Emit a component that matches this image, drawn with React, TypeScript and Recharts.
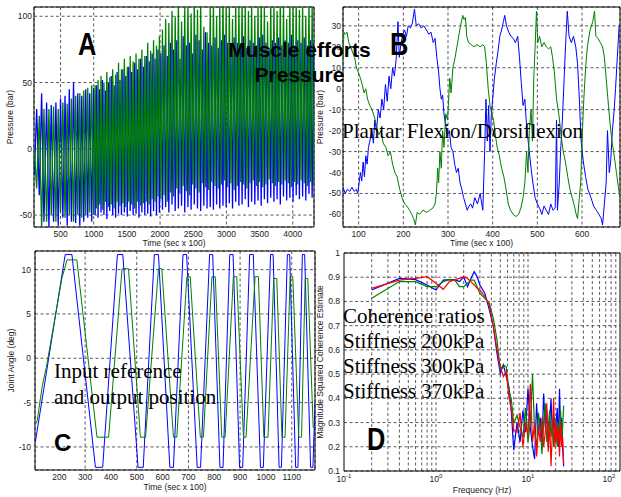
// Four-panel figure: muscle pressures (A, B), joint angle tracking (C), coherence (D).
import { CartesianGrid, Line, LineChart, ReferenceArea, ReferenceLine, XAxis, YAxis } from "recharts";

const SANS = '"Liberation Sans", Arial, Helvetica, sans-serif';
const SERIF = '"Liberation Serif", "Times New Roman", Times, serif';
const BLUE = "#0000ff";
const GREEN = "#008000";
const RED = "#ff0000";

// ---- Panel A: pressure, long run (sec x 100)
const aTime = [
  105, 140, 180, 215, 250, 290, 325, 360, 395, 430, 465, 500, 535, 568, 600, 632, 664, 696, 728, 760, 790, 820, 850, 880, 910, 940, 970, 1000,
  1022, 1044, 1066, 1088, 1110, 1132, 1154, 1176, 1198, 1220, 1242, 1264, 1286, 1308, 1330, 1352, 1374, 1396, 1418, 1440, 1462, 1484,
  1506, 1528, 1550, 1572, 1594, 1616, 1638, 1660, 1682, 1704, 1726, 1748, 1770, 1792, 1814, 1836, 1858, 1880, 1902, 1924, 1946, 1968, 1990,
  2012, 2036, 2060, 2084, 2108, 2132, 2156, 2180, 2204, 2228, 2252, 2276, 2300, 2324, 2348, 2372, 2396, 2420, 2444, 2468,
  2492, 2516, 2540, 2564, 2588, 2612, 2636, 2660, 2684, 2708, 2732, 2756, 2780, 2804, 2828, 2852, 2876, 2900, 2924, 2948,
  2972, 2996, 3020, 3044, 3068, 3092, 3116, 3140, 3164, 3188, 3212, 3236, 3260, 3284, 3308, 3332, 3356, 3380, 3404, 3428,
  3452, 3476, 3500, 3524, 3548, 3572, 3596, 3620, 3644, 3668, 3692, 3716, 3740, 3764, 3788, 3812, 3836, 3860, 3884, 3908,
  3932, 3956, 3980, 4004, 4028, 4052, 4076, 4100, 4124, 4148, 4172, 4196, 4220, 4244, 4268, 4292, 4316,
];
const aBlue = [
  -20, 30, -35, 42, -55, 35, -60, 33, -55, 35, -58, 38, -52, 40, -58, 45, -55, 50, -56, 42, -58, 40, -55, 45, -52, 42, -55, 46,
  -50, 48, -52, 45, -48, 52, -50, 44, -53, 50, -47, 55, -50, 48, -52, 58, -49, 52, -50, 60, -48, 55,
  -51, 62, -47, 58, -50, 65, -49, 60, -52, 68, -48, 62, -50, 70, -49, 66, -51, 72, -47, 68, -50, 75, -48,
  72, -46, 78, -44, 70, -48, 80, -42, 75, -47, 82, -45, 68, -43, 85, -48, 78, -44, 80, -46,
  72, -42, 86, -45, 82, -47, 75, -43, 88, -45, 80, -44, 78, -46, 84, -42, 76, -45, 82, -43,
  86, -44, 80, -41, 74, -45, 84, -40, 80, -43, 78, -42, 85, -38, 76, -44, 82, -40, 80, -42,
  78, -39, 84, -43, 86, -38, 80, -41, 76, -37, 82, -40, 80, -38, 84, -42, 78, -36, 82, -39,
  80, -37, 86, -40, 78, -35, 82, -38, 80, -36, 84, -39, 78, -34, 82, -37, 80,
];
const aGreen = [
  0, -30, 25, -60, 30, -55, 30, -50, 32, -55, 30, -48, 35, -52, 34, -50, 38, -55, 40, -50, 42, -52, 44, -50, 46, -48, 48, -50,
  48, -45, 52, -42, 55, -46, 50, -40, 58, -44, 54, -42, 60, -45, 56, -40, 65, -43, 60, -41, 68, -44,
  62, -40, 70, -42, 66, -45, 72, -40, 68, -43, 75, -41, 70, -40, 80, -42, 74, -38, 82, -40, 78, -36, 85,
  -38, 90, -35, 98, -40, 95, -33, 104, -36, 100, -30, 110, -34, 96, -28, 108, -32, 112, -35, 102,
  -27, 115, -30, 105, -33, 110, -26, 92, -29, 88, -31, 108, -25, 112, -28, 100, -30, 110, -27, 115,
  -24, 106, -29, 110, -26, 98, -31, 112, -28, 108, -25, 115, -27, 110, -30, 104, -26, 112, -24, 100,
  -28, 110, -25, 114, -29, 108, -27, 96, -23, 112, -26, 110, -28, 104, -25, 115, -27, 110, -24, 98,
  -26, 112, -29, 108, -25, 114, -27, 105, -24, 110, -26, 100, -28, 112, -25, 108, -27,
];
const aTimeTicks = [500, 1000, 1500, 2000, 2500, 3000, 3500, 4000];
const aPressureTicks = [-50, 0, 50, 100];

// ---- Panel B: pressure, short window
const bBlue: [number, number][] = [
  [65, -47], [70, -50], [75, -48], [80, -49], [85, -47], [90, -49], [95, -48], [98, -50], [101, -45], [104, -40], [107, -44], [110, -35],
  [113, -42], [116, -32], [119, -36], [122, -28], [126, -24], [130, -20], [133, -26], [136, -15], [140, -20], [144, -10], [148, -14],
  [152, -5], [156, -10], [160, 2], [164, -6], [168, 6], [172, 0], [176, 10], [180, 6], [184, 14], [188, 32], [191, 15], [195, 22],
  [199, 26], [203, 28], [207, 25], [211, 30], [216, 29], [220, 31], [225, 38], [229, 30], [234, 31], [240, 29], [246, 30], [252, 28],
  [257, 26], [262, 27], [267, 22], [271, 24], [275, 15], [279, 8], [282, 0], [285, -5], [288, -3], [291, -12], [295, -18], [299, -22],
  [303, -20], [307, -28], [311, -30], [315, -36], [319, -40], [323, -38], [327, -45], [331, -48], [335, -52], [339, -55], [343, -58],
  [347, -56], [351, -55], [355, -57], [360, -52], [366, -55], [372, -50], [378, -58], [382, -30], [385, -5], [388, -25], [391, -8],
  [394, -30], [397, -12], [400, -5], [404, 5], [408, 12], [412, 18], [416, 25], [420, 28], [424, 32], [427, 35], [431, 30], [436, 27],
  [441, 25], [446, 24], [451, 22], [456, 25], [460, 15], [464, 3], [468, -8], [472, -5], [475, -15], [478, -22], [482, -30], [486, -38],
  [490, -45], [495, -52], [500, -55], [505, -57], [510, -60], [515, -56], [520, -58], [525, -60], [530, -55], [535, -58], [540, -57],
  [543, -15], [545, -58], [549, -45], [552, -30], [556, -15], [560, 5], [563, 20], [567, 37], [571, 25], [576, 22], [581, 25], [586, 20],
  [590, 12], [594, -5], [598, -25], [603, -35], [608, -42], [613, -48], [620, -52], [626, -56], [632, -58], [638, -60], [643, -62],
  [646, -65], [650, -55], [654, -45], [657, -20], [661, -40], [664, -35], [668, -20], [672, -10], [675, 0], [679, 15], [683, 30],
];
const bGreen: [number, number][] = [
  [65, 15], [67, 27], [70, 26], [74, 27], [78, 22], [82, 20], [87, 17], [91, 15], [95, 10], [99, 8], [104, 5], [108, 2], [112, -2],
  [116, 0], [120, -5], [125, -8], [130, -10], [136, -14], [140, -18], [145, -22], [150, -20], [155, -26], [161, -28], [166, -32],
  [171, -30], [176, -36], [181, -40], [186, -42], [192, -48], [197, -52], [203, -55], [208, -56], [214, -58], [219, -60], [223, -62],
  [227, -65], [231, -59], [236, -60], [244, -58], [252, -59], [259, -58], [266, -57], [271, -55], [274, -50], [277, -38], [279, -45],
  [282, -30], [285, -38], [288, -20], [291, -28], [295, -12], [299, -15], [304, 5], [307, -2], [311, 10], [316, 15], [320, 20],
  [324, 25], [328, 30], [333, 35], [336, 33], [339, 34], [342, 25], [346, 22], [352, 21], [358, 20], [365, 21], [372, 20], [378, 21],
  [382, 20], [386, 12], [390, 0], [394, -8], [398, -12], [402, -15], [406, -22], [410, -28], [415, -32], [420, -38], [425, -42],
  [430, -48], [435, -55], [440, -58], [446, -60], [452, -61], [458, -60], [463, -57], [468, -52], [472, -45], [476, -30], [479, -40],
  [482, -20], [486, -10], [489, -25], [492, 5], [495, 20], [498, 37], [501, 22], [505, 25], [510, 20], [515, 22], [520, 20], [525, 19],
  [530, 20], [534, 15], [538, 8], [543, -5], [548, -12], [553, -22], [558, -30], [563, -35], [568, -42], [573, -48], [578, -52],
  [583, -56], [587, -60], [590, -62], [594, -52], [597, -45], [601, -20], [604, -5], [608, 10], [612, 20], [618, 28], [624, 32],
  [628, 37], [631, 25], [636, 24], [641, 22], [646, 20], [650, 15], [654, 5], [658, -5], [662, -15], [667, -25], [672, -32],
  [677, -40], [682, -48], [685, -52],
];
const bTimeTicks = [100, 200, 300, 400, 500, 600];
const bPressureTicks = [-60, -50, -40, -30, -20, -10, 0, 10, 20, 30];

// ---- Panel C: joint angle, reference (blue) and output (green)
const cBlue: [number, number][] = [
  [107, -9.5], [223, 11.7], [249, 11.7], [340, -12.3], [368, -12.3], [425, 11.7], [446, 11.7], [505, -12.3], [525, -12.3],
  [568, 11.7], [584, 11.7], [628, -12.3], [642, -12.3], [679, 11.7], [693, 11.7], [734, -12.3], [747, -12.3], [782, 11.7],
  [794, 11.7], [822, -12.3], [834, -12.3], [860, 11.7], [873, 11.7], [898, -12.3], [910, -12.3], [937, 11.7], [951, 11.7],
  [979, -12.3], [990, -12.3], [1018, 11.7], [1028, 11.7], [1051, -12.3], [1060, -12.3], [1083, 11.7], [1092, 11.7],
  [1115, -12.3], [1124, -12.3], [1141, 11.7], [1150, 11.7], [1173, -12.3], [1182, -12.3], [1190, -5],
];
const cGreen: [number, number][] = [
  [107, -7.5], [115, -7], [122, -5.5], [135, -3], [150, -1], [165, 1.5], [180, 4], [195, 6.5], [210, 9], [230, 11.1], [268, 11.1],
  [346, -8.9], [391, -8.9], [443, 10.1], [468, 10.1], [514, -8.9], [534, -8.9], [584, 10.1], [597, 10.1], [642, -8.9], [655, -8.9],
  [694, 9.2], [707, 9.2], [746, -8.9], [758, -8.9], [791, 9.2], [804, 9.2], [829, -8.9], [842, -8.9], [874, 9.2], [887, 9.2],
  [913, -8.9], [923, -8.9], [958, 9.2], [971, 9.2], [992, -8.9], [1008, -8.9], [1030, 9], [1042, 9], [1062, -8.9], [1074, -8.9],
  [1094, 9.2], [1104, 9.2], [1127, -8.9], [1138, -8.9], [1152, 9], [1162, 9], [1183, -7.8], [1190, -7.8],
];
const cTimeTicks = [200, 300, 400, 500, 600, 700, 800, 900, 1000, 1100];
const cAngleTicks = [-10, -5, 0, 5, 10];

// ---- Panel D: magnitude squared coherence for three stiffness settings
const dFreq = [
  0.2, 0.4, 0.6, 0.8, 1.0, 1.2, 1.4, 1.6, 1.8, 2.0, 2.2, 2.4, 2.6, 2.8, 3.0, 3.4, 3.8, 4.2, 4.6, 5.0, 5.4, 5.8, 6.2, 6.6, 7.0,
  7.6, 8.2, 8.8, 9.4, 10.0, 10.6, 11.2, 11.8, 12.4, 13.0, 13.6, 14.2, 14.8, 15.4, 16.0, 16.6, 17.2, 17.8, 18.4, 19.0, 19.6,
  20.2, 20.8, 21.4, 22.0, 22.6, 23.2, 23.8, 24.4,
];
const dBlue = [
  0.847, 0.895, 0.89, 0.868, 0.847, 0.888, 0.89, 0.89, 0.882, 0.902, 0.861, 0.895, 0.923, 0.902, 0.868, 0.833, 0.765, 0.697, 0.586,
  0.503, 0.538, 0.49, 0.448, 0.338, 0.186,
  0.3, 0.22, 0.35, 0.26, 0.44, 0.28, 0.2, 0.15, 0.38, 0.25, 0.32, 0.22, 0.42, 0.28, 0.35, 0.2, 0.3, 0.4, 0.25, 0.33, 0.22,
  0.3, 0.36, 0.2, 0.44, 0.28, 0.32, 0.2, 0.12,
];
const dGreen = [
  0.813, 0.882, 0.882, 0.861, 0.861, 0.882, 0.89, 0.888, 0.861, 0.861, 0.875, 0.888, 0.888, 0.861, 0.833, 0.813, 0.792, 0.73, 0.641,
  0.517, 0.538, 0.53, 0.434, 0.393, 0.296,
  0.33, 0.28, 0.24, 0.36, 0.22, 0.3, 0.5, 0.26, 0.2, 0.34, 0.28, 0.17, 0.3, 0.38, 0.22, 0.28, 0.35, 0.24, 0.3, 0.2, 0.32,
  0.26, 0.2, 0.3, 0.24, 0.35, 0.22, 0.28, 0.37,
];
const dRed = [
  0.854, 0.888, 0.895, 0.902, 0.875, 0.85, 0.882, 0.89, 0.895, 0.902, 0.895, 0.882, 0.868, 0.854, 0.847, 0.82, 0.785, 0.697, 0.6,
  0.53, 0.49, 0.51, 0.407, 0.352, 0.269,
  0.26, 0.34, 0.2, 0.3, 0.25, 0.46, 0.22, 0.3, 0.16, 0.28, 0.22, 0.32, 0.2, 0.26, 0.38, 0.18, 0.3, 0.12, 0.26, 0.4, 0.2,
  0.3, 0.22, 0.28, 0.16, 0.3, 0.2, 0.24, 0.13,
];
const dFreqTicks = [0.1, 1, 10, 100];
const dFreqGrid = [
  0.2, 0.3, 0.4, 0.5, 0.6, 0.7, 0.8, 0.9, 1, 2, 3, 4, 5, 6, 7, 8, 9, 10, 20, 30, 40, 50, 60, 70, 80, 90,
];
const dCohTicks = [0.1, 0.2, 0.3, 0.4, 0.5, 0.6, 0.7, 0.8, 0.9, 1];

const aRows = aTime.map((t, i) => ({ t, blue: aBlue[i], green: aGreen[i] }));
const toRows = (pts: [number, number][]) => pts.map(([t, v]) => ({ t, v }));
const dRows = dFreq.map((f, i) => ({ f, blue: dBlue[i], green: dGreen[i], red: dRed[i] }));

const tick = { fontSize: 8.5, fill: "#222", fontFamily: SANS };
const grid = { stroke: "#333", strokeDasharray: "3 2.5", strokeWidth: 0.8 };

const xLabel = (value: string, offset: number) => ({
  value, position: "insideBottom" as const, offset, fontSize: 8.5, fill: "#222", fontFamily: SANS,
});
const yLabel = (value: string, offset: number) => ({
  value, angle: -90, position: "insideLeft" as const, offset, fontSize: 8.5, fill: "#222", fontFamily: SANS,
  style: { textAnchor: "middle" as const },
});

function PowerTick({ x, y, payload }: any) {
  const exp = Math.round(Math.log10(payload.value));
  return (
    <text x={x} y={y + 9} textAnchor="middle" fontSize={8.5} fill="#222" fontFamily={SANS}>
      10<tspan dy={-4} fontSize={6}>{exp}</tspan>
    </text>
  );
}

function Tag({ x, y, size, children, sx = 1 }: { x: number; y: number; size: number; children: string; sx?: number }) {
  return (
    <text transform={`translate(${x} ${y}) scale(${sx} 1)`} fontSize={size} fontWeight="bold" fontFamily={SANS} fill="#000">
      {children}
    </text>
  );
}

export default function App() {
  return (
    <div style={{ position: "absolute", left: 0, top: 0, width: 621, height: 497, background: "#fff", overflow: "hidden" }}>
      {/* A */}
      <div style={{ position: "absolute", left: 0, top: 0 }}>
        <LineChart width={320} height={250} data={aRows} margin={{ top: 7, right: 6, bottom: 0, left: 0 }}>
          <CartesianGrid {...grid} />
          <XAxis dataKey="t" type="number" domain={[100, 4320]} ticks={aTimeTicks} allowDataOverflow height={23}
            axisLine={false} tickLine={false} tickSize={0} tickMargin={4} tick={tick} label={xLabel("Time (sec x 100)", 4)} />
          <YAxis type="number" domain={[-59, 107]} ticks={aPressureTicks} allowDataOverflow width={34}
            axisLine={false} tickLine={false} tickSize={0} tickMargin={2} tick={tick} label={yLabel("Pressure (bar)", 10)} />
          <Line dataKey="blue" stroke={BLUE} strokeWidth={1.3} dot={false} isAnimationActive={false} />
          <Line dataKey="green" stroke={GREEN} strokeWidth={1.3} dot={false} isAnimationActive={false} />
          <ReferenceArea x1={100} x2={4320} y1={-59} y2={107} fill="none" fillOpacity={0} stroke="#000" strokeWidth={1} />
        </LineChart>
      </div>

      {/* B */}
      <div style={{ position: "absolute", left: 310, top: 0 }}>
        <LineChart width={311} height={250} margin={{ top: 7, right: 1, bottom: 0, left: 0 }}>
          <CartesianGrid {...grid} />
          <XAxis dataKey="t" type="number" domain={[65, 685]} ticks={bTimeTicks} allowDataOverflow height={23}
            axisLine={false} tickLine={false} tickSize={0} tickMargin={4} tick={tick} label={xLabel("Time (sec x 100)", 4)} />
          <YAxis type="number" domain={[-66, 39]} ticks={bPressureTicks} allowDataOverflow width={33}
            axisLine={false} tickLine={false} tickSize={0} tickMargin={2} tick={tick} label={yLabel("Pressure (bar)", 10)} />
          <Line data={toRows(bBlue)} dataKey="v" stroke={BLUE} strokeWidth={1} dot={false} isAnimationActive={false} />
          <Line data={toRows(bGreen)} dataKey="v" stroke={GREEN} strokeWidth={1} dot={false} isAnimationActive={false} />
          <ReferenceArea x1={65} x2={685} y1={-66} y2={39} fill="none" fillOpacity={0} stroke="#000" strokeWidth={1} />
        </LineChart>
      </div>

      {/* C */}
      <div style={{ position: "absolute", left: 0, top: 240 }}>
        <LineChart width={320} height={257} margin={{ top: 11, right: 5, bottom: 0, left: 0 }}>
          <CartesianGrid {...grid} />
          <XAxis dataKey="t" type="number" domain={[106, 1190]} ticks={cTimeTicks} allowDataOverflow height={27}
            axisLine={false} tickLine={false} tickSize={0} tickMargin={4} tick={tick} label={xLabel("Time (sec x 100)", 7)} />
          <YAxis type="number" domain={[-12.6, 12.1]} ticks={cAngleTicks} allowDataOverflow width={35}
            axisLine={false} tickLine={false} tickSize={0} tickMargin={4} tick={tick} label={yLabel("Joint Angle (deg)", 11)} />
          <Line data={toRows(cBlue)} dataKey="v" stroke={BLUE} strokeWidth={1} dot={false} isAnimationActive={false} />
          <Line data={toRows(cGreen)} dataKey="v" stroke={GREEN} strokeWidth={1} dot={false} isAnimationActive={false} />
          <ReferenceArea x1={106} x2={1190} y1={-12.6} y2={12.1} fill="none" fillOpacity={0} stroke="#000" strokeWidth={1} />
        </LineChart>
      </div>

      {/* D */}
      <div style={{ position: "absolute", left: 310, top: 240 }}>
        <LineChart width={311} height={257} data={dRows} margin={{ top: 13, right: 1, bottom: 0, left: 0 }}>
          <CartesianGrid {...grid} vertical={false} />
          {dFreqGrid.map((f) => (
            <ReferenceLine key={f} x={f} stroke="#333" strokeDasharray="3 2.5" strokeWidth={0.8} />
          ))}
          <XAxis dataKey="f" type="number" scale="log" domain={[0.1, 100]} ticks={dFreqTicks} allowDataOverflow height={26}
            axisLine={false} tickLine={false} tickSize={0} tickMargin={2} tick={<PowerTick />} label={xLabel("Frequency (Hz)", 4)} />
          <YAxis type="number" domain={[0.1, 1]} ticks={dCohTicks} allowDataOverflow width={34}
            axisLine={false} tickLine={false} tickSize={0} tickMargin={4} tick={tick}
            tickFormatter={(v: number) => (v === 1 ? "1" : v.toFixed(1))}
            label={yLabel("Magnitude Squared Coherence Estimate", 10)} />
          <Line dataKey="blue" stroke={BLUE} strokeWidth={1.2} dot={false} isAnimationActive={false} />
          <Line dataKey="green" stroke={GREEN} strokeWidth={1.2} dot={false} isAnimationActive={false} />
          <Line dataKey="red" stroke={RED} strokeWidth={1.2} dot={false} isAnimationActive={false} />
          <ReferenceArea x1={0.1} x2={100} y1={0.1} y2={1} fill="none" fillOpacity={0} stroke="#000" strokeWidth={1} />
        </LineChart>
      </div>

      {/* annotations */}
      <svg width={621} height={497} style={{ position: "absolute", left: 0, top: 0, pointerEvents: "none" }}>
        <Tag x={78} y={55} size={31} sx={0.82}>A</Tag>
        <Tag x={390} y={55} size={31} sx={0.82}>B</Tag>
        <Tag x={54} y={451} size={24}>C</Tag>
        <Tag x={367} y={450} size={31} sx={0.82}>D</Tag>
        <g fontFamily={SANS} fontWeight="bold" fontSize={21} fill="#000" textAnchor="middle">
          <text x={299.5} y={57}>Muscle efforts</text>
          <text x={299.5} y={82}>Pressure</text>
        </g>
        <g fontFamily={SERIF} fontSize={21} fill="#000">
          <text x={342} y={138}>Plantar Flexion/Dorsiflexion</text>
          <text x={54} y={378}>Input reference</text>
          <text x={54} y={404}>and output position</text>
          <text x={343} y={323}>Coherence ratios</text>
          <text x={343} y={348}>Stiffness 200kPa</text>
          <text x={343} y={373}>Stiffness 300kPa</text>
          <text x={343} y={398}>Stiffness 370kPa</text>
        </g>
      </svg>
    </div>
  );
}
